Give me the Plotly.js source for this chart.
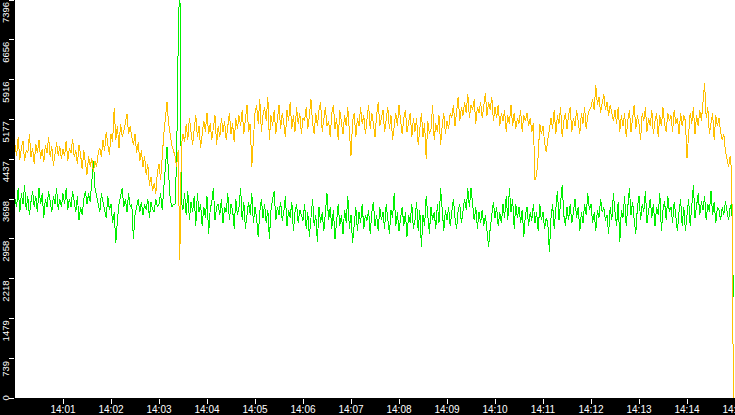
<!DOCTYPE html>
<html>
<head>
<meta charset="utf-8">
<script src="https://cdn.plot.ly/plotly-3.0.1.min.js"></script>
<style>
html,body{margin:0;padding:0;background:#000;}
#chart{width:735px;height:415px;}
#chart .js-line{shape-rendering:crispEdges;}
</style>
</head>
<body>
<div id="chart"></div>
<script>
// Sampling: one reading every 2 seconds starting 14:00:00
const startTime = '2024-01-01 14:00:00';
const stepSeconds = 2;

const yellowSeries = [
  4700,4500,4850,4420,4650,4780,4400,4600,4550,4900,
  4480,4650,4350,4720,4560,4800,4450,4620,4380,4700,
  4550,4850,4480,4680,4320,4600,4750,4500,4680,4450,
  4620,4500,4780,4400,4650,4550,4820,4480,4600,4350,
  4700,4520,4250,4600,4400,4150,4500,4300,4450,4200,
  4400,4300,4550,4650,4480,4800,4600,4950,4700,4520,
  4900,4750,5380,4800,5050,4650,5100,4850,4950,5150,
  5280,4900,5050,4850,4700,4900,4550,4750,4400,4600,
  4300,4500,4150,4350,3950,4100,3850,4000,3800,4200,
  4350,4050,4600,4900,5200,5500,5100,4850,4700,4600,
  4500,4300,4600,2564,4700,4900,4750,5100,4800,5200,
  4950,4700,5000,5250,4850,5050,4650,4900,5150,4950,
  5300,4900,5100,4800,5000,5250,4700,5050,4850,5200,
  4950,5150,4800,5050,5300,4900,5100,4750,5200,5000,
  5250,5050,5350,4900,5200,5450,4950,5100,4300,4900,
  5300,5450,5100,5550,4950,5250,5400,5150,5600,4800,
  5250,5050,5350,4900,5200,5450,5000,5300,5100,4850,
  5350,5150,5500,5000,5250,4950,5400,5100,5300,4900,
  5200,5150,5400,5000,5250,5550,5100,4900,5300,5050,
  5350,5500,4950,5200,5400,5050,5150,4850,5300,5450,
  5000,5200,4800,5350,5100,4900,5250,5050,5400,4950,
  4500,5150,5300,4850,5200,5050,5400,5100,5250,4900,
  5150,5450,5000,5300,5100,4850,5250,5500,5050,5200,
  5350,4950,5150,5400,5000,5250,4800,5100,5300,5050,
  5450,5150,4900,5200,5350,4950,5100,5300,4850,5200,
  4950,5200,4700,5050,5300,4850,5100,4450,5150,4900,
  5000,5450,4800,5100,4950,5250,4700,5050,5300,4900,
  5150,5000,5300,5200,5450,5050,5350,5600,5150,5400,
  5250,5500,5300,5650,5200,5450,5350,5550,5100,5400,
  5300,5500,5200,5450,5670,5250,5500,5350,5600,5150,
  5400,5200,5450,5050,5300,5150,5350,4950,5250,5100,
  5450,5050,5300,5000,5200,5100,5350,4950,5250,5150,
  5300,5050,5200,4950,5100,4050,4150,4500,5100,4900,
  5050,4750,4570,4800,5000,5200,5000,5350,4900,5250,
  5100,5400,4850,5150,5300,5000,5250,5400,4950,5200,
  5050,5350,5150,4900,5300,5100,5400,5000,5250,5350,
  5400,5550,5350,5816,5450,5600,5300,5500,5650,5350,
  5500,5250,5450,5300,5150,5350,5100,5400,4950,5250,
  5050,5300,4850,5150,5350,4950,5200,5450,5000,5250,
  5100,4800,5300,5150,5400,4950,5200,5050,5350,4900,
  5150,5300,4850,5250,5050,5400,5100,4950,5300,5150,
  5250,4950,5350,5100,5200,4900,5300,5050,5250,5150,
  4460,5000,5300,5100,5400,4900,5250,5050,5350,5150,
  5500,5854,5200,5400,4900,5150,5300,4800,5250,5050,
  5200,4950,4800,4900,4600,4450,4300,4500,4150,0
];

const greenSeries = [
  3700,3550,3900,3450,3800,3600,3950,3500,3750,3400,
  3650,3850,3550,3750,3450,3900,3600,3800,3350,3700,
  3550,3850,3650,3450,3750,3600,3900,3500,3700,3550,
  3800,3600,3900,3500,3700,3550,3850,3650,3450,3750,
  3300,3550,3400,3700,3850,3600,3800,3650,4100,4400,
  3900,3750,3600,3450,3800,3650,3550,3350,3750,3500,
  3600,3250,3450,2880,3300,3600,3750,3900,3550,3700,
  3450,3800,3550,3600,2950,3400,3550,3700,3450,3650,
  3400,3600,3500,3700,3350,3650,3500,3450,3700,3550,
  3600,3800,3500,4000,4300,4660,4200,3700,3550,3600,
  3600,4400,6600,7900,3650,3500,3800,3400,3850,3300,
  3650,3450,3750,3200,3800,3450,3600,3200,3550,3350,
  3750,3050,3500,3650,3900,3300,3550,3600,3400,3700,
  3250,3550,3450,3800,3300,3600,3500,3150,3700,3400,
  3550,3900,3300,3650,3150,3450,3650,3400,3800,3250,
  3550,3350,3000,3450,3700,3350,3600,3250,3500,2960,
  3500,3700,3850,3300,3550,3400,3650,3300,3450,3750,
  3200,3500,3350,3650,3100,3450,3600,3250,3500,3400,
  3300,3600,3150,3450,3000,3350,3700,3200,3400,2900,
  3550,3250,3450,3100,3450,3800,3300,3550,3150,3500,
  2950,3350,3600,3200,3400,3050,3500,3250,3750,3150,
  3400,2880,3300,3550,3100,3450,3250,3600,3150,3400,
  3300,3500,3050,3450,3650,3200,3400,3100,3550,3300,
  3450,3150,3600,3250,3050,3500,3350,3800,3200,3450,
  3100,3350,3550,3200,3450,3000,3400,3250,3600,3150,
  3300,3650,3100,3500,2800,3400,3200,3750,3350,3050,
  3550,3300,3450,3150,3600,3250,3900,3400,3100,3500,
  3300,3550,3200,3450,3700,3350,3150,3500,3600,3250,
  3450,3700,3500,3900,3550,3900,3600,3300,3550,3150,
  3450,3250,3500,3200,3400,3050,2806,3150,3400,3650,
  3350,3550,3200,3450,3250,3600,3350,3750,3300,3900,
  3450,3700,3150,3600,3350,3550,3250,3500,3000,3400,
  3550,3200,3450,3300,3600,3250,3450,3100,3600,3300,
  3450,3150,3350,3250,2713,3350,3600,3150,3500,3850,
  3300,3650,3950,3400,3200,3550,3300,3600,3250,3450,
  3700,3350,3550,3100,3450,3250,3600,3400,3800,3500,
  3600,3250,3450,3100,3500,3350,3700,3450,3550,3300,
  3400,3050,3550,3300,3800,3450,3200,3650,2900,3500,
  3350,3750,3200,3550,3900,3400,3650,3300,3050,3550,
  3750,3300,3600,3450,3850,3250,3500,3700,3350,3600,
  3200,3550,3400,3800,3100,3500,3650,3300,3750,3450,
  3550,3250,3650,3400,3100,3450,3700,3200,3550,3100,
  3450,3700,3200,3550,3950,3350,3600,3800,3400,3650,
  3500,3750,3300,3600,3450,3850,3400,3650,3250,3550,
  3500,3300,3550,3400,3650,3450,3300,3550,3600,1877
];

const yTickValues = [0,739,1479,2218,2958,3698,4437,5177,5916,6656,7396];
const yTickLabels = ['0','739','1479','2218','2958','3698','4437','5177','5916','6656','7396'];
const xTickLabels = ['14:01','14:02','14:03','14:04','14:05','14:06','14:07','14:08','14:09','14:10','14:11','14:12','14:13','14:14','14:15'];

function pad(n){return (n<10?'0':'')+n;}
const t0 = new Date(startTime.replace(' ','T')).getTime();
function stamp(ms){
  const d = new Date(ms);
  return d.getFullYear()+'-'+pad(d.getMonth()+1)+'-'+pad(d.getDate())+' '+pad(d.getHours())+':'+pad(d.getMinutes())+':'+pad(d.getSeconds());
}
const n = Math.min(yellowSeries.length, greenSeries.length);
const times = [];
for (let i=0;i<n;i++) times.push(stamp(t0 + i*stepSeconds*1000));

const xTickVals = xTickLabels.map(s => '2024-01-01 ' + s + ':00');

const traces = [
  {x: times, y: greenSeries.slice(0,n), type:'scatter', mode:'lines', line:{color:'#00F000', width:1}, hoverinfo:'skip'},
  {x: times, y: yellowSeries.slice(0,n), type:'scatter', mode:'lines', line:{color:'#FFC000', width:1}, hoverinfo:'skip'}
];

const annotations = yTickValues.map((v,i) => ({
  x: -0.0132, xref:'paper', xanchor:'center',
  y: v, yref:'y', yanchor: i===0 ? 'middle' : 'top',
  text: yTickLabels[i], showarrow:false, textangle:-90,
  font:{family:'Liberation Sans, Arial, sans-serif', size:9.5, color:'#FFFFFF'}
}));

const layout = {
  width:735, height:415,
  margin:{l:15, r:0, t:0, b:17, pad:0},
  paper_bgcolor:'#000000', plot_bgcolor:'#FFFFFF',
  showlegend:false,
  xaxis:{
    type:'date',
    range:['2024-01-01 14:00:00','2024-01-01 14:15:00'],
    tickmode:'array', tickvals:xTickVals, ticktext:xTickLabels,
    ticks:'outside', ticklen:5, tickwidth:1, tickcolor:'#FFFFFF',
    tickfont:{family:'Liberation Sans, Arial, sans-serif', size:10, color:'#FFFFFF'},
    ticklabelstandoff:-3,
    ticklabeloverflow:'allow',
    showgrid:false, zeroline:false, showline:false, fixedrange:true
  },
  yaxis:{
    range:[0,7396],
    tickmode:'array', tickvals:yTickValues,
    ticks:'outside', ticklen:5, tickwidth:1, tickcolor:'#FFFFFF',
    showticklabels:false,
    showgrid:false, zeroline:false, showline:false, fixedrange:true
  },
  annotations: annotations
};

Plotly.newPlot('chart', traces, layout, {staticPlot:true, displayModeBar:false});
</script>
</body>
</html>
